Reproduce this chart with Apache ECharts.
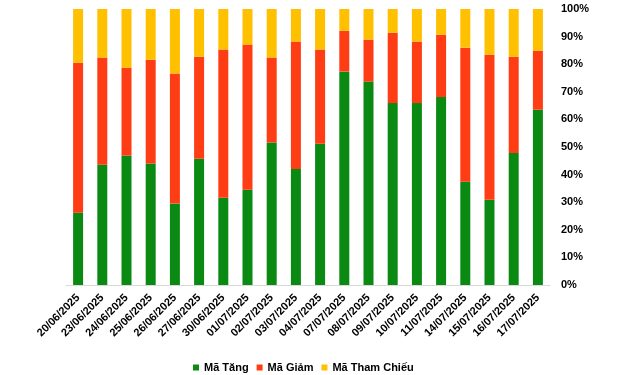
<!DOCTYPE html>
<html>
<head>
<meta charset="utf-8">
<script src="https://cdn.jsdelivr.net/npm/echarts@6/dist/echarts.min.js"></script>
<style>
  html, body { margin: 0; padding: 0; background: #ffffff; }
  #chart { width: 640px; height: 375px; }
</style>
</head>
<body>
<div id="chart"></div>
<script>
// ngày giao dịch
var dates = ['20/06/2025', '23/06/2025', '24/06/2025', '25/06/2025', '26/06/2025', '27/06/2025',
  '30/06/2025', '01/07/2025', '02/07/2025', '03/07/2025', '04/07/2025', '07/07/2025',
  '08/07/2025', '09/07/2025', '10/07/2025', '11/07/2025', '14/07/2025', '15/07/2025',
  '16/07/2025', '17/07/2025'];

// tỷ lệ % từng nhóm
var maTang = [26.2, 43.6, 46.9, 44.0, 29.5, 45.7, 31.6, 34.5, 51.6, 42.0,
  51.2, 77.3, 73.7, 65.9, 65.9, 68.1, 37.4, 30.9, 47.8, 63.5];
var maGiam = [54.3, 38.8, 31.8, 37.6, 47.1, 37.0, 53.7, 52.6, 30.8, 46.2,
  34.1, 14.8, 15.2, 25.5, 22.3, 22.6, 48.6, 52.5, 34.9, 21.4];
var maThamChieu = [19.5, 17.6, 21.3, 18.4, 23.4, 17.3, 14.7, 12.9, 17.6, 11.8,
  14.7, 7.9, 11.1, 8.6, 11.8, 9.3, 14.0, 16.6, 17.3, 15.1];

var yTicks = [0, 10, 20, 30, 40, 50, 60, 70, 80, 90, 100];

var myChart = echarts.init(document.getElementById('chart'));

var labelFont = {
  fontFamily: 'Liberation Sans, Arial, sans-serif',
  fontWeight: 'bold',
  fontSize: 11,
  color: '#000000'
};

var option = {
  backgroundColor: '#ffffff',
  animation: false,
  color: ['#0b8a13', '#ff3d14', '#ffc000'],
  grid: {
    left: 66,
    right: 90,
    top: 9,
    bottom: 90,
    containLabel: false
  },
  legend: {
    top: 357,
    left: 188,
    itemWidth: 6,
    itemHeight: 6,
    itemGap: 8,
    icon: 'rect',
    textStyle: labelFont,
    data: ['Mã Tăng', 'Mã Giảm', 'Mã Tham Chiếu']
  },
  xAxis: {
    type: 'category',
    data: dates,
    axisLine: { lineStyle: { color: '#d9d9d9', width: 1 } },
    axisTick: { show: false },
    axisLabel: Object.assign({ rotate: 45, interval: 0, margin: 11 }, labelFont)
  },
  yAxis: {
    type: 'value',
    position: 'right',
    min: yTicks[0],
    max: yTicks[yTicks.length - 1],
    interval: 10,
    axisLine: { show: false },
    axisTick: { show: false },
    splitLine: { show: false },
    axisLabel: Object.assign({ margin: 11, formatter: '{value}%' }, labelFont)
  },
  series: [
    { name: 'Mã Tăng', type: 'bar', stack: 'all', barWidth: 10, data: maTang },
    { name: 'Mã Giảm', type: 'bar', stack: 'all', barWidth: 10, data: maGiam },
    { name: 'Mã Tham Chiếu', type: 'bar', stack: 'all', barWidth: 10, data: maThamChieu }
  ]
};

myChart.setOption(option);
</script>
</body>
</html>
